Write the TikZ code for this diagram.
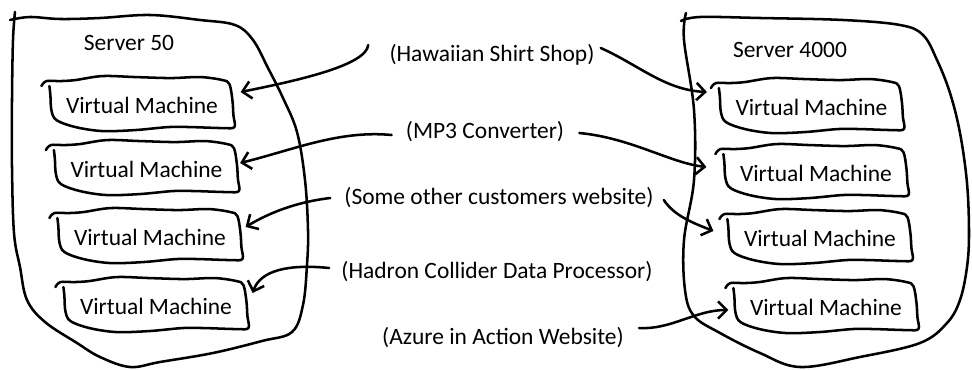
\documentclass[tikz,border=0pt]{standalone}
\usepackage{fontspec}
\setmainfont{Carlito}
\usetikzlibrary{arrows.meta,calc}
\tikzset{
 hand/.style={line width=1.9pt, line join=round, line cap=round},
 conn/.style={hand, -{Straight Barb[length=6.5pt,width=13pt,line width=1.9pt]}},
 vm/.style={minimum width=137pt, minimum height=37pt, inner sep=0pt, font=\fontsize{17.6}{20}\selectfont},
 lbl/.style={inner sep=0pt, font=\fontsize{17.6}{20}\selectfont},
}
\newcommand\vmoutline[1]{%
 \begin{scope}[shift={(#1.north west)}]
 \draw[hand] plot[smooth,tension=0.55] coordinates {(-9,6) (-4,1) (10,1) (25,0) (52,-4) (85,-3) (120,-2) (150,-3) (172,0) (179,4) (182,20) (183,35) (184,47) (172,48) (140,47) (118,47) (85,50) (52,51) (25,47) (6,40) (1,30) (0,15) (-1,6)};
 \end{scope}}
\begin{document}
\begin{tikzpicture}[x=0.75pt,y=-0.75pt]
\useasboundingbox (0,0) rectangle (972,370);
% servers
\draw[hand] plot[smooth,tension=0.6] coordinates {(10,20) (30,17) (60,19) (100,18) (150,15) (200,20) (235,25) (253,40) (268,68) (283,98) (297,132) (305,180) (308,230) (307,265) (303,305) (292,332) (262,341) (213,353) (160,362) (130,367) (100,357) (77,343) (45,322) (27,300) (20,267) (14,233) (12,167) (12,100) (13,40) (15,12)};
\draw[hand] plot[smooth,tension=0.6] coordinates {(681,21) (700,17) (760,18) (843,20) (900,25) (923,35) (937,60) (950,93) (960,133) (967,183) (969,233) (967,267) (960,300) (947,323) (920,343) (860,357) (800,367) (760,353) (720,333) (694,316) (685,290) (684,240) (694,180) (694,110) (684,40) (686,13)};
\node[lbl] (s50) at (129,43) {Server 50};
\node[lbl] (s4000) at (790,50) {Server 4000};
% VMs
\node[vm] (L1) at (142,105) {Virtual Machine};
\node[vm] (L2) at (146.5,169) {Virtual Machine};
\node[vm] (L3) at (150,237) {Virtual Machine};
\node[vm] (L4) at (156,306) {Virtual Machine};
\node[vm] (R1) at (811.5,107) {Virtual Machine};
\node[vm] (R2) at (816,173) {Virtual Machine};
\node[vm] (R3) at (820,238) {Virtual Machine};
\node[vm] (R4) at (826,307) {Virtual Machine};
\vmoutline{L1}\vmoutline{L2}\vmoutline{L3}\vmoutline{L4}
\vmoutline{R1}\vmoutline{R2}\vmoutline{R3}\vmoutline{R4}
% labels
\node[lbl] (h) at (492,55) {(Hawaiian Shirt Shop)};
\node[lbl] (m) at (485,132) {(MP3 Converter)};
\node[lbl] (s) at (499,198) {(Some other customers website)};
\node[lbl] (d) at (497,272) {(Hadron Collider Data Processor)};
\node[lbl] (a) at (503,338) {(Azure in Action Website)};
% connectors
\draw[conn] ($(h.west)+(-21,-10)$) .. controls +(-2,20) and +(60,-12) .. ($(L1.east)+(7,-13)$);
\draw[conn] ($(m.west)+(-14,3)$) .. controls +(-53,-5) and +(53,-13) .. ($(L2.east)+(2,-6)$);
\draw[conn] ($(s.west)+(-14,0)$) .. controls +(-33,4) and +(25,-15) .. ($(L3.east)+(4,-10)$);
\draw[conn] ($(d.west)+(-12,-4)$) .. controls +(-40,-4) and +(8,-23) .. ($(L4.east)+(5,-13)$);
\draw[conn] ($(h.east)+(6,-7)$) .. controls +(38,17) and +(-42,-2) .. ($(R1.west)+(-13,-15)$);
\draw[conn] ($(m.east)+(15,1)$) .. controls +(52,5) and +(-36,-4) .. ($(R2.west)+(-18,-6)$);
\draw[conn] ($(s.east)+(10,2)$) .. controls +(10,15) and +(-23,-9) .. ($(R3.west)+(-15,-7)$);
\draw[conn] ($(a.east)+(15,-10)$) .. controls +(32,2) and +(-33,0) .. ($(R4.west)+(-6,3)$);
\end{tikzpicture}
\end{document}
